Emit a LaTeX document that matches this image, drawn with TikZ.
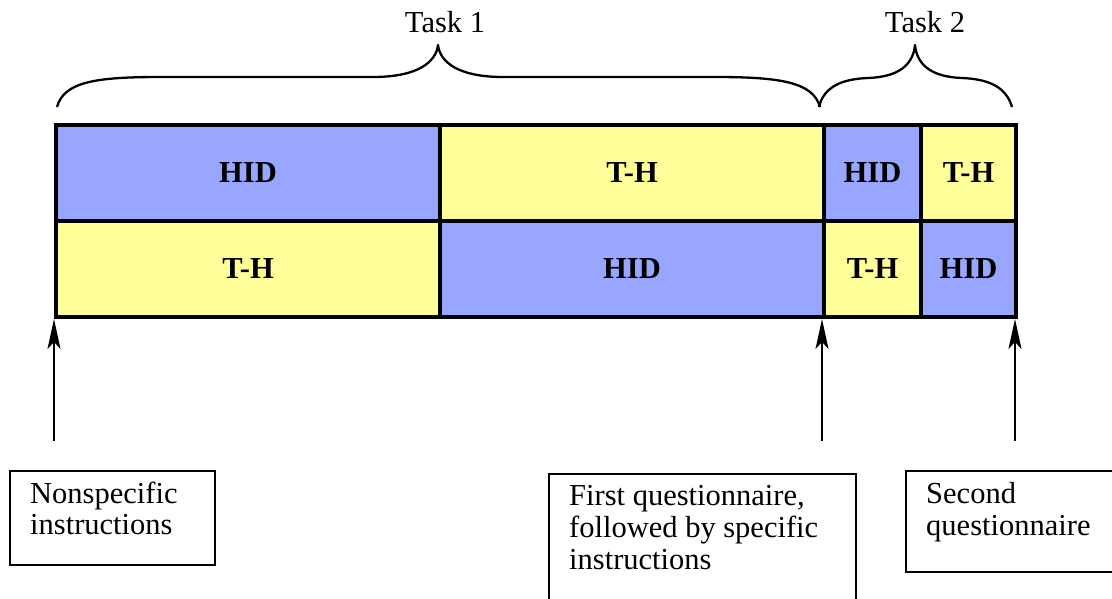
\documentclass[tikz,border=0pt]{standalone}
\usepackage{fontspec}
\setmainfont{Liberation Serif}
\usetikzlibrary{arrows.meta}
\definecolor{hidblue}{RGB}{153,166,255}
\definecolor{thyellow}{RGB}{255,255,153}
\tikzset{
  cell/.style={draw=black, line width=4pt, inner sep=0pt, anchor=north west, font=\fontsize{30.5}{30.5}\selectfont\bfseries},
  hidcell/.style={cell, fill=hidblue},
  thcell/.style={cell, fill=thyellow},
  note/.style={draw=black, line width=1.8pt, inner sep=0pt, anchor=north west},
  notetext/.style={inner sep=0pt, anchor=north west, align=left},
  brace/.style={line width=2.3pt, line join=round},
  uparrow/.style={line width=2pt, -{Stealth[length=30pt, width=13pt, inset=7pt]}}
}
\begin{document}
\begin{tikzpicture}[x=1pt, y=-1pt, font=\fontsize{30.5}{30.5}\selectfont]
\useasboundingbox (0,0) rectangle (1112,599);
\clip (0,0) rectangle (1112,599);
% cells row 1
\node[hidcell, minimum width=384pt, minimum height=96pt] (r1a) at (54,123) {HID};
\node[thcell,  minimum width=384pt, minimum height=96pt] (r1b) at (438,123) {T-H};
\node[hidcell, minimum width=97pt,  minimum height=96pt] (r1c) at (822,123) {HID};
\node[thcell,  minimum width=95pt,  minimum height=96pt] (r1d) at (919,123) {T-H};
% cells row 2
\node[thcell,  minimum width=384pt, minimum height=96pt] (r2a) at (54,219) {T-H};
\node[hidcell, minimum width=384pt, minimum height=96pt] (r2b) at (438,219) {HID};
\node[thcell,  minimum width=97pt,  minimum height=96pt] (r2c) at (822,219) {T-H};
\node[hidcell, minimum width=95pt,  minimum height=96pt] (r2d) at (919,219) {HID};
% braces
\draw[brace] (57,107) .. controls (64,82) and (95,77) .. (160,77) -- (373,77)
  .. controls (418,77) and (436,62) .. (438,45)
  .. controls (440,62) and (458,77) .. (503,77) -- (715,77)
  .. controls (780,77) and (813,82) .. (820,107);
\draw[brace] (819,107) .. controls (824,86) and (843,79) .. (868,78)
  .. controls (897,77) and (913,66) .. (915,45)
  .. controls (917,66) and (933,77) .. (962,78)
  .. controls (987,79) and (1006,86) .. (1012,107);
\node[anchor=base] (t1) at (445,33) {Task 1};
\node[anchor=base] (t2) at (925,33) {Task 2};
% arrows
\coordinate (a1s) at (54,441);
\coordinate (a2s) at (822,441);
\coordinate (a3s) at (1015,441);
\coordinate (a1e) at (54,319);
\coordinate (a2e) at (822,319);
\coordinate (a3e) at (1015,319);
\draw[uparrow] (a1s) -- (a1e);
\draw[uparrow] (a2s) -- (a2e);
\draw[uparrow] (a3s) -- (a3e);
% note boxes
\node[note, minimum width=205pt, minimum height=94pt] (n1) at (9,470) {};
\node[notetext] (n1t) at (30,482) {Nonspecific\\instructions};
\node[note, minimum width=307pt, minimum height=160pt] (n2) at (548,473) {};
\node[notetext, font=\fontsize{30.5}{32}\selectfont] (n2t) at (569,485) {First questionnaire,\\followed by specific\\instructions};
\node[note, minimum width=240pt, minimum height=101pt] (n3) at (905,470) {};
\node[notetext, font=\fontsize{30.5}{32}\selectfont] (n3t) at (926,482) {Second\\questionnaire};
\end{tikzpicture}
\end{document}
